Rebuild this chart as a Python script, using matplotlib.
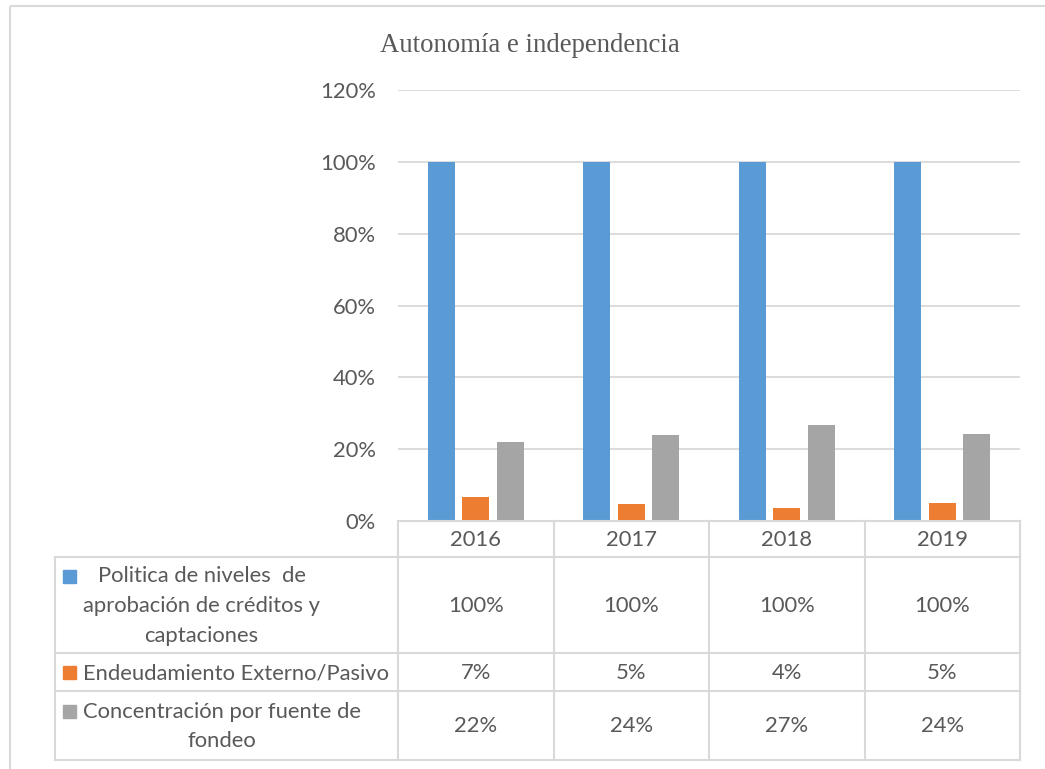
import numpy as np
import matplotlib
matplotlib.use("Agg")
import matplotlib.pyplot as plt
from matplotlib.patches import Rectangle

# data
years = ["2016", "2017", "2018", "2019"]
politica = [1.00, 1.00, 1.00, 1.00]
endeudamiento = [0.068, 0.047, 0.036, 0.050]
concentracion = [0.22, 0.24, 0.267, 0.242]
series_names = ["Politica de niveles  de\naprobación de créditos y\ncaptaciones",
                "Endeudamiento Externo/Pasivo",
                "Concentración por fuente de\nfondeo"]
colors = ["#5B9BD5", "#ED7D31", "#A5A5A5"]
title = "Autonomía e independencia"

W, H = 1045, 769
txt = "#595959"
grid = "#D9D9D9"
sans = "Lato"
fs = 15.8

fig = plt.figure(figsize=(W / 100, H / 100), dpi=100)

# plot area in pixels
x0, x1 = 398, 1020
y_top, y_zero = 90, 521
ax = fig.add_axes([x0 / W, 1 - y_zero / H, (x1 - x0) / W, (y_zero - y_top) / H])

series = [politica, endeudamiento, concentracion]
x = np.arange(len(years))
bw = 0.174
step = 0.222
for i, (vals, c) in enumerate(zip(series, colors)):
    ax.bar(x + (i - 1) * step, vals, width=bw, color=c, zorder=3)

ax.set_xlim(-0.5, len(years) - 0.5)
ax.set_ylim(0, 1.2)
ax.set_yticks(np.arange(0, 1.21, 0.2))
ax.set_yticklabels(["{:.0%}".format(v) for v in np.arange(0, 1.21, 0.2)],
                   fontsize=fs, color=txt, family=sans)
ax.tick_params(axis="y", length=0, pad=16)
ax.set_xticks([])
ax.grid(axis="y", color=grid, linewidth=1.3, zorder=0)
for s in ax.spines.values():
    s.set_visible(False)

# overlay in pixel coordinates for frame, title and data table
ov = fig.add_axes([0, 0, 1, 1], zorder=5)
ov.set_xlim(0, W)
ov.set_ylim(H, 0)
ov.axis("off")
ov.patch.set_alpha(0)

# outer chart frame
ov.add_patch(Rectangle((10, 6), W + 20, H + 20, fill=False, edgecolor=grid, linewidth=1.5))

ov.text(530, 46, title, ha="center", va="center",
        fontsize=19.3, color=txt, family="Liberation Serif")

# data table
col_w = (x1 - x0) / len(years)
tab_left = 55
row_y = [521, 557, 653, 691, 760]
lw = 1.5
# horizontal lines
ov.plot([x0, x1], [row_y[0], row_y[0]], color=grid, lw=lw)
for yy in row_y[1:]:
    ov.plot([tab_left, x1], [yy, yy], color=grid, lw=lw)
# vertical lines
ov.plot([tab_left, tab_left], [row_y[1], row_y[-1]], color=grid, lw=lw)
for j in range(len(years) + 1):
    xx = x0 + j * col_w
    ov.plot([xx, xx], [row_y[0], row_y[-1]], color=grid, lw=lw)

for j, yr in enumerate(years):
    ov.text(x0 + (j + 0.5) * col_w, (row_y[0] + row_y[1]) / 2 + 1, yr,
            ha="center", va="center", fontsize=fs, color=txt, family=sans)

line_h = 29
for i, (name, vals, c) in enumerate(zip(series_names, series, colors)):
    ytop, ybot = row_y[i + 1], row_y[i + 2]
    yc = (ytop + ybot) / 2
    nlines = name.count("\n") + 1
    first = yc - (nlines - 1) * line_h / 2
    ov.add_patch(Rectangle((63, first - 6), 13, 13, color=c))
    ov.text(83, yc + 1, name, ha="left", va="center", multialignment="center",
            fontsize=fs, color=txt, family=sans, linespacing=1.6)
    for j, v in enumerate(vals):
        ov.text(x0 + (j + 0.5) * col_w, yc + 1, "{:.0%}".format(v),
                ha="center", va="center", fontsize=fs, color=txt, family=sans)

fig.savefig("out.png", dpi=100)
